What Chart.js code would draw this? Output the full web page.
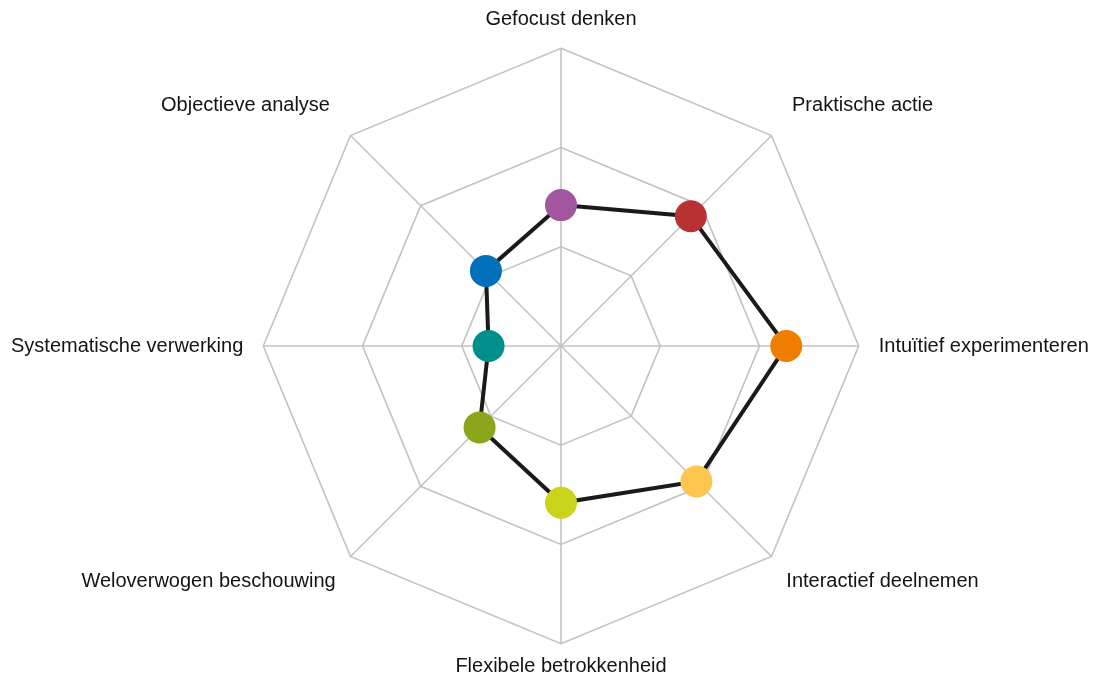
<!DOCTYPE html>
<html>
<head>
<meta charset="utf-8">
<script src="https://cdn.jsdelivr.net/npm/chart.js@4/dist/chart.umd.min.js"></script>
<style>
  html, body { margin: 0; padding: 0; background: #ffffff; }
  #wrap { width: 1100px; height: 684px; }
</style>
</head>
<body>
<div id="wrap"><canvas id="radar"></canvas></div>
<script>
// Denkstijlen — radar met 8 assen
const labels = [
  'Gefocust denken', 'Praktische actie', 'Intuïtief experimenteren', 'Interactief deelnemen',
  'Flexibele betrokkenheid', 'Weloverwogen beschouwing', 'Systematische verwerking', 'Objectieve analyse',
];
const scores = [1.42, 1.85, 2.27, 1.93, 1.58, 1.16, 0.73, 1.07];
const pointColors = ['#a356a0', '#b83234', '#ef7d00', '#fdc64f', '#c8d31a', '#8aa61b', '#00908b', '#0070bb'];
const scaleMax = 3;

// afstand label <-> buitenrand, per as (boven, rechtsboven, ... linksboven)
const labelGap = [19, 29, 20, 21, 13, 21, 20, 29];

new Chart(document.getElementById('radar'), {
  type: 'radar',
  data: {
    labels,
    datasets: [{
      data: scores,
      borderColor: '#1a1a1a',
      borderWidth: 4,
      backgroundColor: 'rgba(0,0,0,0)',
      fill: false,
      pointBackgroundColor: pointColors,
      pointBorderWidth: 0,
      pointRadius: 16,
      pointHoverRadius: 16,
      tension: 0,
    }],
  },
  options: {
    responsive: true,
    maintainAspectRatio: false,
    animation: false,
    // negatieve padding: radius ~300px, middelpunt ~(562, 347)
    layout: { padding: { top: 3, bottom: -7, left: -5, right: -8 } },
    plugins: { legend: { display: false }, tooltip: { enabled: false } },
    scales: {
      r: {
        min: 0,
        max: scaleMax,
        ticks: { display: false, stepSize: 1 },
        grid: { color: '#c2c2c2', lineWidth: 1.6 },
        angleLines: { color: '#c2c2c2', lineWidth: 1.6 },
        pointLabels: {
          color: '#141414',
          padding: ctx => labelGap[ctx.index],
          font: { family: '"Liberation Sans", Arial, sans-serif', size: 20, lineHeight: 1 },
        },
      },
    },
  },
});
</script>
</body>
</html>
